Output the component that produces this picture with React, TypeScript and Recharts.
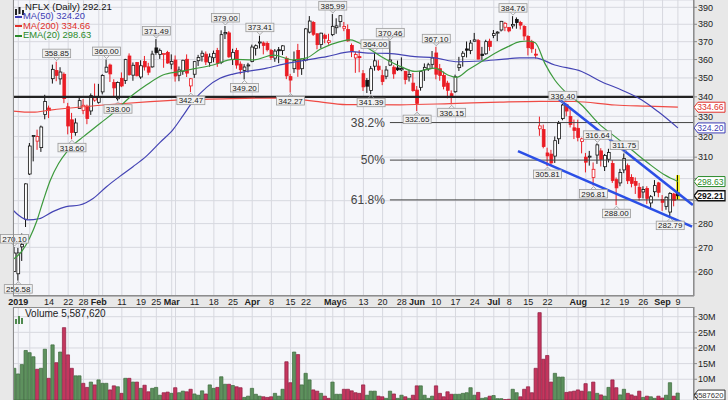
import React from 'react';
import {
  ComposedChart,
  Bar,
  Line,
  XAxis,
  YAxis,
  CartesianGrid,
  ReferenceLine,
  ReferenceDot,
  ReferenceArea,
  Cell
} from 'recharts';

// first candle is Dec 31 2018, index -1; Jan 2 2019 is index 0
const FIRST_X = -1;
const X_MIN = -1.38;
const X_MAX = 176.2;

const openP = [
  260.16, 259.28, 270.2, 281.88, 302.1, 319.98, 317.71, 314.57, 330.96, 334.24, 349.6, 354.0, 349.5, 351.97, 334.89, 328.26, 321.94, 334.0, 333.07, 335.18, 332.75, 338.33,
  337.18, 342.6, 353.2, 357.0, 347.55, 339.0, 349.79, 348.66, 361.97, 351.5, 358.4, 350.5, 359.0, 356.0, 356.0, 366.47, 362.85, 362.77, 363.98,
  357.5, 359.72, 351.46, 353.6, 360.16, 345.75, 352.0, 359.37, 361.8, 363.0, 358.3, 361.0, 365.0, 358.5, 374.5, 375.0, 360.0, 365.0, 357.5, 354.0, 356.5,
  359.0, 366.25, 369.26, 369.27, 369.0, 365.11, 360.8, 365.0, 365.0, 360.69, 350.71, 355.0, 365.05, 355.0, 359.7, 375.45, 381.07, 374.49, 368.35, 373.68, 369.56,
  374.0, 378.0, 381.53, 377.69, 377.0, 367.92, 360.9, 361.62, 352.29, 348.71, 343.34, 356.37, 356.39, 351.23, 350.92, 357.0, 355.8, 355.41, 354.39, 353.6, 350.55, 347.23,
  343.56, 345.0, 354.38, 354.84, 357.39, 363.65, 355.0, 351.38, 347.23, 341.63, 342.69, 355.57, 361.72, 365.91, 365.0, 370.26, 370.59, 362.99, 363.2, 370.26,
  373.5, 374.89, 376.69, 378.29, 378.19, 379.06, 382.77, 381.06, 378.68, 372.94, 370.0, 363.0, 323.76, 323.4, 312.0, 311.44, 310.51, 318.86, 328.86, 335.98, 329.91, 324.25,
  324.01, 317.49, 310.0, 310.0, 300.5, 311.0, 313.0, 305.5, 309.0, 307.0, 299.5, 298.0, 304.0, 306.0, 300.5, 298.7, 296.0, 293.9, 295.5, 289.0, 294.0, 298.0,
  290.5, 287.5, 285.0, 293.0, 293.5
];
const highP = [
  270.1, 269.75, 275.79, 297.8, 316.8, 320.59, 323.35, 325.37, 341.09, 335.48, 357.22, 358.85, 355.79, 353.0, 336.88, 331.75, 328.99, 340.0, 338.85, 336.0, 341.78, 347.0,
  346.84, 352.0, 360.0, 357.77, 349.3, 348.11, 352.98, 360.44, 363.42, 358.4, 358.68, 359.6, 361.99, 358.2, 364.9, 371.49, 366.13, 363.0, 364.86,
  362.87, 362.25, 356.17, 359.88, 362.86, 349.92, 358.98, 362.6, 365.0, 364.5, 363.4, 365.0, 366.5, 376.5, 379.0, 376.0, 366.0, 366.5, 359.0, 357.5, 358.19,
  368.33, 368.42, 373.41, 370.17, 370.12, 365.94, 365.84, 367.0, 368.0, 361.75, 352.21, 364.48, 368.76, 360.41, 377.69, 384.8, 381.9, 374.76, 375.14, 374.58, 374.5,
  385.99, 383.5, 385.03, 381.35, 379.91, 369.0, 364.2, 365.26, 354.26, 349.95, 356.5, 364.0, 359.62, 354.44, 356.47, 370.46, 356.9, 359.44, 361.2, 353.63, 354.45, 352.66,
  345.7, 353.61, 357.88, 358.2, 364.75, 367.1, 357.58, 353.45, 348.5, 343.4, 351.77, 361.5, 364.74, 370.11, 370.93, 375.0, 371.49, 367.06, 371.09, 371.69,
  376.66, 376.0, 381.99, 381.4, 378.25, 384.76, 384.0, 382.0, 379.49, 373.68, 371.05, 366.0, 329.85, 325.85, 314.54, 313.5, 319.99, 327.69, 336.4, 336.0, 334.71, 328.39,
  328.33, 319.41, 312.0, 312.99, 307.5, 316.64, 314.29, 311.5, 314.0, 308.5, 300.5, 304.5, 311.75, 307.0, 302.0, 300.5, 298.0, 296.5, 296.5, 292.5, 299.3, 298.5,
  292.5, 292.0, 293.8, 293.5, 301.6
];
const lowP = [
  260.0, 256.58, 264.43, 278.54, 301.65, 308.01, 313.5, 312.5, 328.52, 329.13, 347.0, 348.26, 346.41, 336.73, 321.03, 318.6, 320.34, 334.0, 331.11, 326.06, 330.73, 337.5,
  336.5, 341.3, 352.9, 347.84, 339.72, 338.0, 345.1, 346.81, 351.23, 348.5, 350.88, 349.5, 354.0, 351.5, 355.5, 362.65, 360.36, 355.5, 357.73,
  354.69, 348.04, 348.25, 351.7, 350.5, 342.47, 350.02, 356.5, 358.9, 357.0, 356.1, 358.5, 356.0, 357.5, 371.5, 361.0, 357.0, 355.0, 352.0, 349.2, 352.95,
  358.51, 362.22, 366.19, 362.86, 364.5, 359.82, 358.78, 358.0, 362.5, 349.36, 342.27, 352.72, 350.6, 351.64, 359.0, 374.71, 373.27, 365.7, 366.24, 369.12, 368.35,
  373.17, 374.51, 378.27, 376.0, 370.0, 361.36, 352.75, 353.06, 343.1, 342.0, 341.39, 353.94, 353.79, 346.17, 349.33, 356.45, 349.56, 353.79, 353.65, 346.62, 348.1, 342.7,
  332.65, 343.25, 348.4, 353.74, 355.0, 349.29, 348.5, 343.93, 339.25, 336.15, 342.06, 353.75, 356.12, 361.17, 363.0, 370.06, 360.0, 359.8, 362.62, 364.87,
  372.0, 370.31, 375.84, 376.0, 375.36, 377.5, 377.44, 377.0, 370.78, 362.3, 363.73, 360.59, 320.3, 314.23, 305.81, 306.0, 307.25, 316.3, 328.03, 330.0, 324.44, 318.73,
  317.6, 311.8, 302.85, 306.0, 296.81, 306.82, 305.6, 303.5, 307.5, 298.0, 288.0, 296.5, 302.5, 297.5, 296.0, 293.0, 290.0, 291.0, 288.5, 286.5, 292.0, 291.5,
  285.5, 286.0, 282.79, 287.5, 290.5
];
const closeP = [
  267.66, 267.66, 271.2, 297.57, 315.34, 320.27, 319.96, 324.66, 337.59, 332.94, 354.64, 351.39, 353.19, 339.1, 325.16, 321.99, 326.67, 338.05, 335.66, 328.9, 340.66, 339.5,
  339.85, 351.34, 355.81, 352.19, 344.71, 347.57, 345.73, 359.97, 351.77, 356.87, 351.18, 356.6, 355.97, 353.1, 363.02, 363.91, 364.97, 362.87, 358.1,
  359.0, 351.04, 354.3, 359.61, 352.6, 349.58, 358.86, 361.2, 363.5, 358.7, 361.5, 363.44, 358.0, 374.0, 375.2, 361.5, 364.0, 357.0, 354.5, 355.91, 356.56,
  366.96, 367.72, 369.75, 367.88, 365.49, 361.19, 364.71, 364.9, 367.65, 351.14, 348.87, 359.46, 354.74, 360.35, 377.34, 381.89, 374.23, 368.33, 374.85, 371.83, 370.54,
  378.81, 379.06, 385.03, 378.67, 370.46, 364.37, 362.75, 361.04, 345.26, 345.61, 354.99, 359.31, 354.45, 348.11, 354.27, 359.73, 352.21, 354.39, 355.06, 349.19, 351.85, 343.28,
  336.63, 353.4, 355.73, 357.13, 360.87, 352.01, 351.27, 345.56, 343.43, 339.73, 350.62, 357.12, 363.52, 365.21, 369.21, 371.04, 360.3, 362.2, 370.02, 367.32,
  374.6, 375.43, 381.72, 380.55, 376.16, 379.93, 381.0, 379.5, 373.25, 366.6, 365.99, 362.44, 325.21, 315.1, 310.62, 307.3, 317.94, 326.46, 335.78, 332.7, 325.93, 322.99,
  319.5, 318.83, 307.63, 310.1, 304.29, 315.9, 308.93, 310.83, 312.28, 299.11, 295.76, 302.8, 309.38, 298.99, 297.81, 296.93, 291.44, 294.98, 291.03, 291.77, 296.78, 293.75,
  289.29, 291.52, 293.25, 290.17, 292.21
];
// volume in millions of shares
const volumeM = [
  13.5, 11.7, 14.7, 19.2, 18.5, 17.2, 13.2, 13.5, 19.6, 10.3, 21.0, 15.3, 18.7, 26.5, 17.8, 13.5, 11.1, 11.1, 8.7, 7.4, 9.1, 8.2,
  9.8, 8.7, 8.7, 6.6, 7.9, 7.6, 5.5, 10.3, 10.3, 9.1, 9.1, 7.1, 8.1, 6.0, 7.1, 7.4, 4.9, 5.7, 5.9,
  5.5, 7.3, 5.7, 6.2, 6.0, 6.8, 5.3, 4.9, 6.3, 5.3, 8.2, 7.1, 7.4, 10.8, 8.4, 8.4, 8.0, 7.6, 7.3, 4.2, 4.6,
  7.1, 5.2, 4.6, 4.4, 4.2, 4.4, 5.5, 4.6, 6.8, 15.6, 8.9, 18.7, 17.9, 8.2, 11.9, 9.8, 6.6, 6.2, 5.5, 4.6, 3.9,
  9.1, 5.2, 5.2, 6.8, 6.8, 6.3, 5.7, 5.5, 8.2, 4.9, 6.2, 6.2, 4.6, 4.4, 3.9, 6.2, 5.3, 3.9, 4.9, 4.4, 3.9, 4.9,
  7.9, 7.9, 4.9, 3.9, 4.6, 7.9, 5.5, 4.4, 6.0, 5.2, 5.2, 5.2, 5.5, 5.7, 7.3, 4.9, 5.8, 3.9, 4.1, 4.6,
  4.8, 3.8, 3.8, 3.5, 3.6, 6.8, 5.7, 4.4, 6.8, 7.6, 5.7, 13.5, 31.3, 16.4, 17.6, 9.1, 11.9, 10.7, 10.7, 5.8, 6.0, 6.2,
  6.6, 6.2, 8.6, 6.0, 9.1, 5.5, 5.0, 4.6, 7.4, 9.8, 7.3, 5.0, 6.8, 5.5, 5.0, 4.6, 6.2, 4.2, 4.6, 4.4, 3.9, 4.6,
  4.0, 4.9, 8.9, 4.6, 5.58762
];

// moving averages as [index, value]
const ma50Pts = [
  [-1.4, 285.9], [0, 283.7], [2.5, 281.6], [5.4, 282.1], [9, 285.2], [12.5, 287.4], [16, 288.1], [19.5, 291], [23, 296.3],
  [26.4, 300.9], [29.9, 305.5], [33.4, 310.5], [36.9, 317], [40.4, 323.5], [43, 330.5], [45.5, 337.5], [49.1, 345], [52.6, 349.8],
  [56, 352.1], [59.6, 353.5], [64.8, 355.3], [70, 357.9], [75.2, 359.8], [80.4, 361.6], [87, 364.4], [91.2, 363.6], [96.4, 363.4],
  [103.4, 361.6], [108.6, 360.9], [114.7, 358.8], [120.7, 359.2], [126, 360.1], [130.8, 360.9], [134.7, 360.9], [139.9, 357],
  [146.9, 353.5], [152.1, 348], [157.3, 343.6], [162.6, 338.4], [166.9, 332.3], [172, 324.2]
];
const ma200Pts = [
  [-1.4, 332.7], [3.8, 332.1], [8.3, 333.2], [16.9, 334.9], [25.7, 336.3], [34.4, 337.5], [42.9, 338.4], [56, 339.1], [68.3, 339.4],
  [77, 337.8], [85.6, 336], [99.5, 335.9], [112.6, 336.5], [125.6, 337.3], [136, 337.7], [145, 337.6], [155.6, 335.8], [164, 335.2], [172, 334.66]
];
const ema20Pts = [
  [-1.4, 265], [1, 268.5], [3, 274], [4.8, 281], [6.5, 290], [8.3, 299], [10.5, 307], [12.6, 312.4], [15, 317], [17, 319.9], [21.3, 326.4],
  [25.7, 333.3], [28.3, 338.4], [33.4, 346.2], [37.7, 351.6], [42.2, 353.5], [46, 355], [50.8, 357], [56, 360.1], [61.3, 359.8], [66.5, 362.5],
  [71.7, 359.8], [75.2, 360.9], [78.7, 365.7], [83.9, 370], [86.5, 371], [91.2, 366.3], [94.7, 361.6], [99.9, 356], [103.4, 353.5],
  [108.6, 355.3], [112, 351.6], [114.2, 350.3], [117.3, 354.4], [120.7, 358.8], [124.2, 363.4], [127.7, 367.2], [130.8, 370], [133, 370.4],
  [134.8, 369.4], [137.3, 357.9], [139.9, 348.9], [142.6, 342.7], [146.9, 335.8], [151.3, 326.5], [155.6, 319.9], [160, 313.4],
  [164.3, 307.1], [168.6, 301.6], [172, 298.63]
];

// week / month starts (grid) and their labels
const gridTicks = [0, 3, 8, 13, 17, 21, 22, 27, 32, 36, 40, 41, 46, 51, 56, 61, 66, 71, 75, 80, 82, 85, 90, 95, 100, 104, 109, 114, 119,
  124, 128, 133, 138, 143, 146, 148, 153, 158, 163, 168, 172];
const tickText: Record<number, string> = {
  0: '2019', 8: '14', 13: '22', 17: '28', 21: 'Feb', 27: '11', 32: '19', 36: '25', 40: 'Mar', 46: '11', 51: '18', 56: '25',
  61: 'Apr', 66: '8', 71: '15', 75: '22', 82: 'May', 85: '6', 90: '13', 95: '20', 100: '28', 104: 'Jun', 109: '10', 114: '17',
  119: '24', 124: 'Jul', 128: '8', 133: '15', 138: '22', 146: 'Aug', 153: '12', 158: '19', 163: '26', 168: 'Sep', 172: '9'
};
const boldTicks = [0, 21, 40, 61, 82, 104, 124, 146, 168];

const priceTicks = [260, 270, 280, 290, 300, 310, 320, 330, 340, 350, 360, 370, 380, 390];
const volTicks = [10e6, 15e6, 20e6, 25e6, 30e6];

// flagged highs (H) and lows (L)
const flags: [number, 'H' | 'L'][] = [
  [-1, 'H'], [0, 'L'], [10, 'H'], [14, 'L'], [23, 'H'], [26, 'L'], [36, 'H'], [45, 'L'], [54, 'H'], [59, 'L'], [63, 'H'],
  [71, 'L'], [82, 'H'], [92, 'L'], [93, 'H'], [97, 'H'], [104, 'L'], [109, 'H'], [113, 'L'], [129, 'H'], [138, 'L'],
  [142, 'H'], [150, 'L'], [151, 'H'], [156, 'L'], [158, 'H'], [170, 'L']
];

const fibLevels = [
  { name: '38.2%', value: 326.87 },
  { name: '50%', value: 308.61 },
  { name: '61.8%', value: 290.35 }
];
const FIB_START = 96.9;
const channelUpper = [{ x: 140, y: 340.3 }, { x: 175.9, y: 288.1 }];
const channelLower = [{ x: 130.3, y: 312.9 }, { x: 175.7, y: 278.7 }];

const C_RED = '#ea1c24';
const C_BLACK = '#111';
const C_MA50 = '#4444b4';
const C_MA200 = '#ef4a44';
const C_EMA = '#3d9a3d';

const rows = openP.map((o, i) => {
  const c = closeP[i];
  const prev = i > 0 ? closeP[i - 1] : o;
  return {
    x: i + FIRST_X,
    open: o,
    close: c,
    wick: [lowP[i], highP[i]],
    body: [Math.min(o, c), Math.max(o, c)],
    up: c >= prev,
    vol: Math.round(volumeM[i] * 1e6)
  };
});
const last = rows.length - 1;
const toPts = (pts: number[][]) => pts.map(([x, v]) => ({ x, v }));
const lastOf = (pts: number[][]) => pts[pts.length - 1][1];

// current values tagged on the right axis
const tags = [
  { value: lastOf(ma200Pts), color: '#e0302a', bold: false },
  { value: lastOf(ma50Pts), color: '#3c3cb4', bold: false },
  { value: lastOf(ema20Pts), color: '#2a8a2a', bold: false },
  { value: closeP[last], color: '#111', bold: true }
];

const Wick = (p: any) => {
  const { x, width, y, height, payload } = p;
  const cx = x + width / 2;
  return <line x1={cx} x2={cx} y1={y} y2={y + height} stroke={payload.up ? C_BLACK : C_RED} strokeWidth={1} />;
};

const Body = (p: any) => {
  const { x, width, y, height, payload } = p;
  const col = payload.up ? C_BLACK : C_RED;
  const hollow = payload.close > payload.open;
  const cx = x + width / 2;
  return (
    <rect x={cx - 1.4} y={y} width={2.8} height={Math.max(height, 0.8)}
      fill={hollow ? '#fff' : col} stroke={col} strokeWidth={0.8} />
  );
};

const Flag = ({ cx, cy, text, below }: any) => {
  const w = 28;
  const h = 8.5;
  const top = below ? cy + 4 : cy - 4 - h;
  const base = below ? top : top + h;
  const tip = below ? cy + 1 : cy - 1;
  return (
    <g>
      <path d={`M${cx - 3},${base} L${cx},${tip} L${cx + 3},${base}`} fill="none" stroke="#999" strokeWidth={0.8} />
      <rect x={cx - w / 2} y={top} width={w} height={h} fill="#f1f1f1" stroke="#9a9a9a" strokeWidth={0.8} />
      <text x={cx} y={top + 7.2} textAnchor="middle" fontSize={8} fill="#222">{text}</text>
    </g>
  );
};

const AxisTag = ({ cx, cy, text, color, bold, size = 8.6 }: any) => (
  <g>
    <path d={`M${cx},${cy} L${cx + 4},${cy - 5} L${cx + 31},${cy - 5} L${cx + 31},${cy + 5} L${cx + 4},${cy + 5} Z`}
      fill="#fff" stroke={color} strokeWidth={bold ? 1.3 : 1} />
    <text x={cx + 29.5} y={cy + 3.1} textAnchor="end" fontSize={size} fontWeight={bold ? 700 : 400} fill={color}>{text}</text>
  </g>
);

const DateTick = (props: any) => {
  const { x, y, payload } = props;
  const t = tickText[payload.value];
  if (!t) return <g />;
  return (
    <text x={x} y={y + 9} textAnchor="middle" fontSize={9} fontWeight={boldTicks.includes(payload.value) ? 700 : 400} fill="#222">
      {t}
    </text>
  );
};

// price ticks sitting under a value tag are hidden, as in the original
const PriceTick = (props: any) => {
  const { x, y, payload } = props;
  const covered = tags.some((t) => Math.abs(Math.log(payload.value / t.value)) < 0.011);
  if (covered) return <g />;
  return (
    <text x={x} y={y} dy="0.355em" textAnchor="start" fontSize={9} fill="#222">{payload.value}</text>
  );
};

const LegendRow = ({ color, text, top }: any) => (
  <div style={{ position: 'absolute', left: 15, top, fontSize: 9.4, lineHeight: '9px', color, whiteSpace: 'nowrap' }}>
    <span style={{ display: 'inline-block', width: 7, height: 2, background: color, verticalAlign: 'middle', marginRight: 1 }} />
    {text}
  </div>
);

const App: React.FC = () => {
  const lastRow = rows[last];
  return (
    <div style={{ position: 'fixed', left: 0, top: 0, width: 728, height: 400, background: '#e8e8e8', overflow: 'hidden',
      fontFamily: "'Liberation Sans', Arial, sans-serif" }}>
      <div style={{ position: 'absolute', left: 0, top: 0 }}>
        <ComposedChart width={728} height={308} data={rows} margin={{ top: 0, right: 0, bottom: 0, left: 13 }}>
          <CartesianGrid stroke="#d7d8df" fill="#f5f6fa" fillOpacity={1} strokeWidth={1} />
          <XAxis dataKey="x" type="number" domain={[X_MIN, X_MAX]} allowDataOverflow ticks={gridTicks}
            tick={<DateTick />} tickLine={false} tickSize={0} tickMargin={0} height={12} axisLine={{ stroke: '#888' }} interval={0} />
          <XAxis xAxisId="w" dataKey="x" type="number" domain={[X_MIN, X_MAX]} allowDataOverflow hide />
          <YAxis orientation="right" scale="log" type="number" domain={[250.6, 394.4]} allowDataOverflow ticks={priceTicks}
            width={34} tickSize={3} tickMargin={1} tick={<PriceTick />} axisLine={{ stroke: '#888' }}
            tickLine={{ stroke: '#888' }} interval={0} />
          <ReferenceArea x1={lastRow.x - 0.5} x2={lastRow.x + 0.5} y1={lowP[last]} y2={highP[last]} fill="#f3ef2a" fillOpacity={1} stroke="none" />
          <ReferenceLine y={340} stroke="#222" strokeWidth={2.2} />
          {fibLevels.map((f) => (
            <ReferenceLine key={f.name} segment={[{ x: FIB_START, y: f.value }, { x: X_MAX, y: f.value }]} stroke="#444" strokeWidth={1}
              label={{ value: f.name, position: 'left', fontSize: 12, fill: '#444', offset: 5 }} />
          ))}
          <Line data={toPts(ma200Pts)} dataKey="v" type="monotone" stroke={C_MA200} strokeWidth={1.2} dot={false} isAnimationActive={false} />
          <Line data={toPts(ma50Pts)} dataKey="v" type="monotone" stroke={C_MA50} strokeWidth={1.2} dot={false} isAnimationActive={false} />
          <Line data={toPts(ema20Pts)} dataKey="v" type="monotone" stroke={C_EMA} strokeWidth={1.2} dot={false} isAnimationActive={false} />
          <Bar xAxisId="w" dataKey="wick" barSize={1} shape={<Wick />} isAnimationActive={false} />
          <Bar dataKey="body" barSize={3} minPointSize={1} shape={<Body />} isAnimationActive={false} />
          <ReferenceLine segment={channelUpper} stroke="#2b4fe6" strokeWidth={2.6} />
          <ReferenceLine segment={channelLower} stroke="#2b4fe6" strokeWidth={2.6} />
          {flags.map(([ix, kind]) => {
            const i = ix - FIRST_X;
            const v = kind === 'H' ? highP[i] : lowP[i];
            return (
              <ReferenceDot key={`f${ix}`} x={ix} y={v} r={0} ifOverflow="visible"
                shape={(p: any) => <Flag cx={p.cx} cy={p.cy} text={v.toFixed(2)} below={kind === 'L'} />} />
            );
          })}
          {tags.map((t) => (
            <ReferenceDot key={`t${t.value}`} x={X_MAX} y={t.value} r={0} ifOverflow="visible"
              shape={(p: any) => <AxisTag cx={p.cx} cy={p.cy} text={t.value.toFixed(2)} color={t.color} bold={t.bold} />} />
          ))}
        </ComposedChart>
      </div>

      <div style={{ position: 'absolute', left: 0, top: 307 }}>
        <ComposedChart width={728} height={93} data={rows} margin={{ top: 0, right: 0, bottom: 0, left: 13 }}>
          <CartesianGrid stroke="#d7d8df" fill="#f5f6fa" fillOpacity={1} />
          <XAxis dataKey="x" type="number" domain={[X_MIN, X_MAX]} allowDataOverflow ticks={gridTicks} interval={0} hide />
          <YAxis orientation="right" type="number" domain={[3.37e6, 33.1e6]} allowDataOverflow ticks={volTicks} width={34}
            tickSize={3} tickMargin={1} tick={{ fontSize: 9, fill: '#222' }} tickFormatter={(v: number) => `${v / 1e6}M`}
            axisLine={{ stroke: '#888' }} tickLine={{ stroke: '#888' }} interval={0} />
          <Bar dataKey="vol" barSize={3.3} isAnimationActive={false}>
            {rows.map((r, i) => (
              <Cell key={`v${i}`} fill={r.up ? '#5e915e' : '#c4365e'} stroke={r.up ? '#3c6a3c' : '#8e1c40'} strokeWidth={0.7} />
            ))}
          </Bar>
          <ReferenceDot x={X_MAX} y={lastRow.vol} r={0} ifOverflow="visible"
            shape={(p: any) => <AxisTag cx={p.cx} cy={p.cy + 2} text={String(lastRow.vol)} color="#333" size={7.6} />} />
        </ComposedChart>
      </div>

      {/* panel borders */}
      <div style={{ position: 'absolute', left: 13, top: -1, width: 681, height: 297, border: '1px solid #8d8d8d', boxSizing: 'border-box', pointerEvents: 'none' }} />
      <div style={{ position: 'absolute', left: 13, top: 307, width: 681, height: 95, border: '1px solid #8d8d8d', boxSizing: 'border-box', pointerEvents: 'none' }} />

      {/* price panel legend */}
      <div style={{ position: 'absolute', left: 14, top: 2 }}>
        <svg width={10} height={9}>
          <rect x={1} y={2} width={2} height={6} fill="#222" />
          <rect x={4.5} y={0} width={2} height={7} fill="#222" />
          <rect x={8} y={3} width={2} height={5} fill="#222" />
        </svg>
      </div>
      <div style={{ position: 'absolute', left: 25, top: 1.5, fontSize: 9.6, lineHeight: '9px', color: '#111', whiteSpace: 'nowrap' }}>
        NFLX (Daily) {closeP[last].toFixed(2)}
      </div>
      <LegendRow color="#3c3cb4" text={`MA(50) ${lastOf(ma50Pts).toFixed(2)}`} top={11} />
      <LegendRow color="#e0302a" text={`MA(200) ${lastOf(ma200Pts).toFixed(2)}`} top={20.5} />
      <LegendRow color="#2a8a2a" text={`EMA(20) ${lastOf(ema20Pts).toFixed(2)}`} top={30} />

      {/* volume legend */}
      <div style={{ position: 'absolute', left: 15, top: 310 }}>
        <svg width={9} height={8}>
          <rect x={0} y={3} width={2} height={5} fill="#4f8a4f" />
          <rect x={3} y={0} width={2} height={8} fill="#4f8a4f" />
          <rect x={6} y={2} width={2} height={6} fill="#4f8a4f" />
        </svg>
      </div>
      <div style={{ position: 'absolute', left: 25, top: 309, fontSize: 10, lineHeight: '9px', color: '#222', whiteSpace: 'nowrap' }}>
        Volume {lastRow.vol.toLocaleString('en-US')}
      </div>
    </div>
  );
};

export default App;
